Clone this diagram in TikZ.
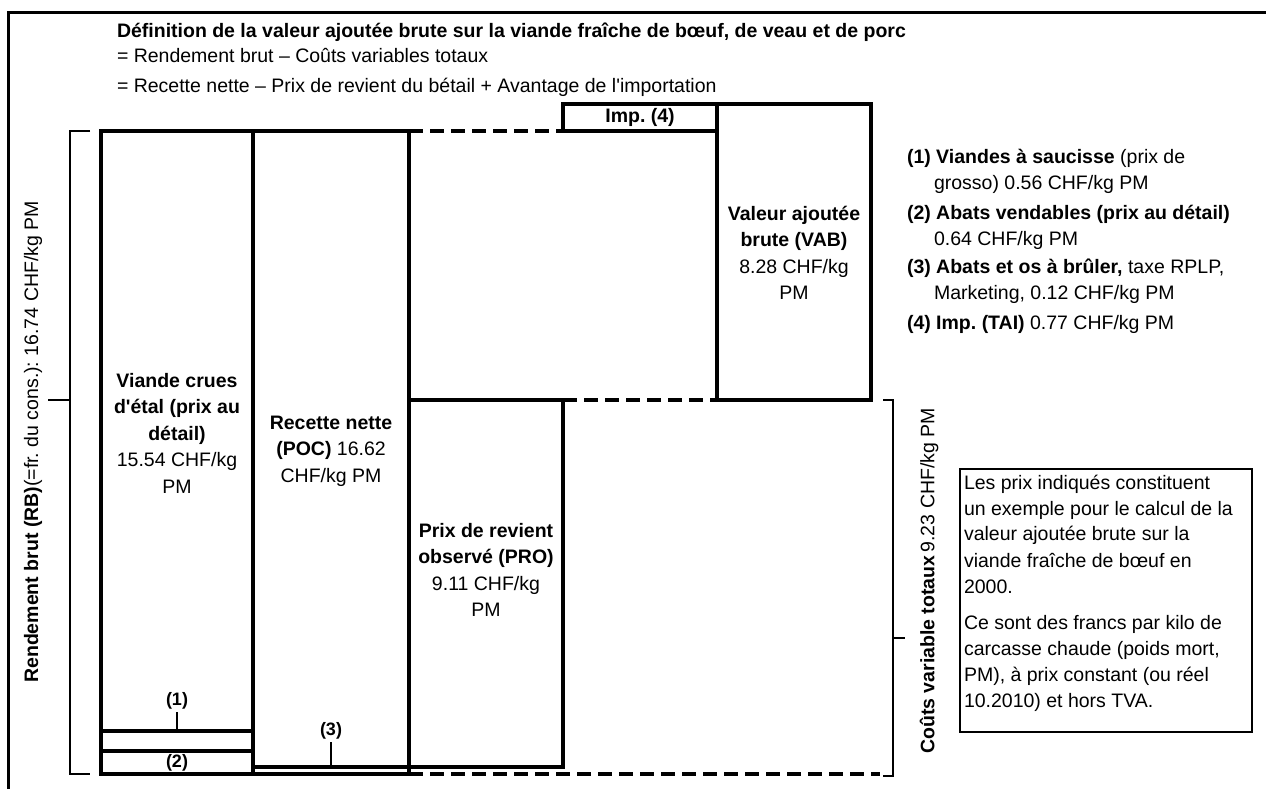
\documentclass[tikz,border=0pt]{standalone}
\usepackage{fontspec}
\setmainfont{Liberation Sans}
\frenchspacing
\begin{document}
\begin{tikzpicture}[x=1pt,y=-1pt,
  every node/.style={inner sep=0pt, outer sep=0pt},
  txt/.style={font=\fontsize{19.5}{26.5}\selectfont, align=center},
  ltxt/.style={font=\fontsize{19.5}{26}\selectfont, align=left, anchor=base west},
  small/.style={font=\fontsize{18}{22}\selectfont\bfseries},
  heavy/.style={line width=4pt, line cap=rect},
  dline/.style={line width=4pt, dash pattern=on 14pt off 7pt},
  thinline/.style={line width=2pt},
  frameline/.style={line width=3pt},
]
\useasboundingbox (0,0) rectangle (1266,789);
% outer frame
\draw[frameline] (8,789) -- (8,13) -- (1266,13);
% title
\node[ltxt] (t1) at (117,38) {\bfseries Définition de la valeur ajoutée brute sur la viande fraîche de bœuf, de veau et de porc};
\node[ltxt] (t2) at (117,63) {= Rendement brut – Coûts variables totaux};
\node[ltxt] (t3) at (117,93) {= Recette nette – Prix de revient du bétail + Avantage de l\textquotesingle importation};
% boxes
\draw[heavy] (101,131) rectangle (253,774);
\draw[heavy] (253,131) rectangle (409,774);
\draw[heavy] (101,731) -- (253,731);
\draw[heavy] (101,751) -- (253,751);
\draw[heavy] (253,767) -- (563,767) -- (563,400) -- (409,400);
\draw[heavy] (563,104) rectangle (717,131);
\draw[heavy] (717,104) rectangle (871,400);
\draw[dline] (409,131) -- (563,131);
\draw[dline] (563,400) -- (717,400);
\draw[dline] (409,774) -- (880,774);
% box texts
\node[txt] (vc) at (177,433) {\bfseries Viande crues\\\bfseries d\textquotesingle étal (prix au\\\bfseries détail)\\15.54 CHF/kg\\PM};
\node[txt] (rn) at (331,451) {\bfseries Recette nette\\\textbf{(POC)} 16.62\\CHF/kg PM};
\node[txt] (pro) at (486,570) {\bfseries Prix de revient\\\bfseries observé (PRO)\\9.11 CHF/kg\\PM};
\node[txt] (vab) at (794,253) {\bfseries Valeur ajoutée\\\bfseries brute (VAB)\\8.28 CHF/kg\\PM};
\node[txt] (imp) at (640,117) {\bfseries Imp. (4)};
% small labels
\coordinate (c1) at (177,731);
\coordinate (c3) at (331,767);
\node[small] (l1) at (177,701) {(1)};
\node[small] (l2) at (177,763) {(2)};
\node[small] (l3) at (331,731) {(3)};
\draw[thinline] ([yshift=-3pt]l1.south) -- (c1);
\draw[thinline] ([yshift=-3pt]l3.south) -- (c3);
% brackets
\draw[thinline] (90,131) -- (70,131) -- (70,774) -- (90,774);
\draw[thinline] (48,400) -- (70,400);
\draw[thinline] (883,400) -- (893,400) -- (893,776) -- (883,776);
\draw[thinline] (893,638) -- (905,638);
\node[txt, rotate=90] (rb) at (33,442) {\textbf{Rendement brut (RB)}(=fr. du cons.): 16.74 CHF/kg PM};
\node[txt, rotate=90] (cv) at (929,581) {\textbf{Coûts variable totaux}\,9.23 CHF/kg PM};
% legend
\node[ltxt] (g1a) at (907,164) {\textbf{(1) Viandes à saucisse} (prix de};
\node[ltxt] (g1b) at (934,189) {grosso) 0.56 CHF/kg PM};
\node[ltxt] (g2a) at (907,219) {\textbf{(2) Abats vendables (prix au détail)}};
\node[ltxt] (g2b) at (934,245) {0.64 CHF/kg PM};
\node[ltxt] (g3a) at (907,273) {\textbf{(3) Abats et os à brûler,} taxe RPLP,};
\node[ltxt] (g3b) at (934,299) {Marketing, 0.12 CHF/kg PM};
\node[ltxt] (g4a) at (907,329) {\textbf{(4) Imp. (TAI)} 0.77 CHF/kg PM};
% note box
\draw[thinline] (960,469) rectangle (1252,732);
\node[ltxt] (n1) at (964,489) {Les prix indiqués constituent};
\node[ltxt] (n2) at (964,515) {un exemple pour le calcul de la};
\node[ltxt] (n3) at (964,540) {valeur ajoutée brute sur la};
\node[ltxt] (n4) at (964,567) {viande fraîche de bœuf en};
\node[ltxt] (n5) at (964,593) {2000.};
\node[ltxt] (n6) at (964,629) {Ce sont des francs par kilo de};
\node[ltxt] (n7) at (964,655) {carcasse chaude (poids mort,};
\node[ltxt] (n8) at (964,681) {PM), à prix constant (ou réel};
\node[ltxt] (n9) at (964,707) {10.2010) et hors TVA.};
\end{tikzpicture}
\end{document}
